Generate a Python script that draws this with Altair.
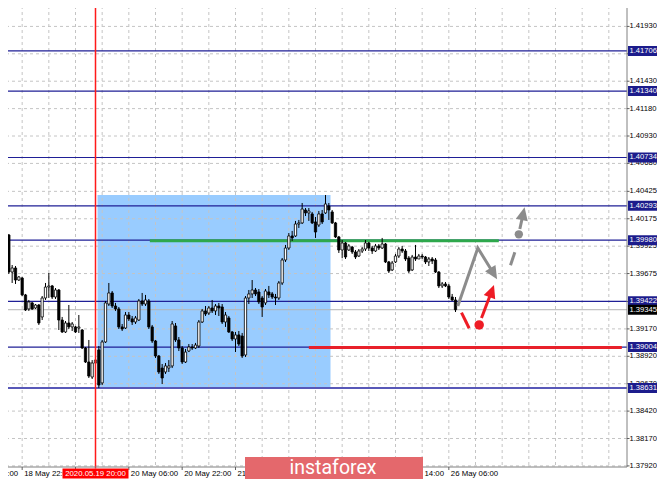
import altair as alt
import pandas as pd

# ---------------- data ----------------
bars = list(range(-6, 131))  # hourly bar index (0 = 18 May 22:00, weekend removed)

opens = [1.40182, 1.40283, 1.40027, 1.39689, 1.39726, 1.39616,
         1.39634, 1.39480, 1.39352, 1.39407, 1.39361, 1.39388, 1.39279, 1.39452, 1.39552, 1.39562,
         1.39461, 1.39525, 1.39251, 1.39142, 1.39224, 1.39188, 1.39188, 1.39178, 1.39160, 1.38996,
         1.38868, 1.38731, 1.38859, 1.38978, 1.38677, 1.39051, 1.39397, 1.39498, 1.39379, 1.39352,
         1.39188, 1.39178, 1.39297, 1.39261, 1.39233, 1.39251, 1.39425, 1.39397, 1.39425, 1.39188,
         1.39060, 1.38923, 1.38813, 1.38777, 1.38813, 1.38832, 1.39197, 1.39069, 1.38996, 1.38868,
         1.38968, 1.39005, 1.38996, 1.39014, 1.39233, 1.39334, 1.39315, 1.39361, 1.39334, 1.39379,
         1.39370, 1.39233, 1.39270, 1.39142, 1.39078, 1.39115, 1.39105, 1.38932, 1.39452, 1.39489,
         1.39525, 1.39507, 1.39452, 1.39407, 1.39507, 1.39489, 1.39461, 1.39452, 1.39589, 1.39799,
         1.39908, 1.40018, 1.40018, 1.40127, 1.40137, 1.40255, 1.40228, 1.40219, 1.40146, 1.40118,
         1.40219, 1.40228, 1.40292, 1.40237, 1.40137, 1.40009, 1.39890, 1.39954, 1.39890, 1.39917,
         1.39872, 1.39835, 1.39881, 1.39899, 1.39954, 1.39908, 1.39881, 1.39927, 1.39908, 1.39945,
         1.39781, 1.39708, 1.39781, 1.39835, 1.39899, 1.39881, 1.39817, 1.39708, 1.39826, 1.39808,
         1.39835, 1.39826, 1.39781, 1.39808, 1.39799, 1.39689, 1.39562, 1.39580, 1.39562, 1.39461,
         1.39434]

highs = [1.40365, 1.40319, 1.40036, 1.39753, 1.39744, 1.39653,
         1.39644, 1.39489, 1.39434, 1.39416, 1.39397, 1.39397, 1.39470, 1.39589, 1.39680, 1.39571,
         1.39543, 1.39534, 1.39279, 1.39242, 1.39388, 1.39233, 1.39197, 1.39297, 1.39169, 1.39005,
         1.39069, 1.38886, 1.38923, 1.39014, 1.39069, 1.39425, 1.39589, 1.39516, 1.39407, 1.39370,
         1.39215, 1.39324, 1.39324, 1.39288, 1.39288, 1.39443, 1.39498, 1.39480, 1.39443, 1.39206,
         1.39069, 1.38932, 1.38850, 1.38859, 1.38886, 1.39242, 1.39224, 1.39096, 1.39014, 1.38987,
         1.39032, 1.39032, 1.39042, 1.39251, 1.39352, 1.39379, 1.39379, 1.39434, 1.39397, 1.39407,
         1.39397, 1.39324, 1.39288, 1.39151, 1.39142, 1.39151, 1.39133, 1.39470, 1.39525, 1.39616,
         1.39543, 1.39534, 1.39470, 1.39534, 1.39562, 1.39507, 1.39489, 1.39607, 1.39817, 1.39936,
         1.40045, 1.40064, 1.40155, 1.40164, 1.40319, 1.40273, 1.40273, 1.40237, 1.40191, 1.40246,
         1.40255, 1.40392, 1.40319, 1.40255, 1.40146, 1.40018, 1.39981, 1.39963, 1.39945, 1.39927,
         1.39890, 1.39899, 1.39917, 1.39981, 1.39963, 1.39927, 1.39945, 1.39945, 1.40000, 1.39954,
         1.39790, 1.39790, 1.39854, 1.39917, 1.39927, 1.39899, 1.39835, 1.39845, 1.39936, 1.39854,
         1.39854, 1.39835, 1.39826, 1.39826, 1.39817, 1.39698, 1.39598, 1.39598, 1.39580, 1.39489,
         1.39461]

lows = [1.40146, 1.40018, 1.39671, 1.39589, 1.39580, 1.39607,
        1.39470, 1.39334, 1.39334, 1.39343, 1.39352, 1.39206, 1.39251, 1.39434, 1.39452, 1.39443,
        1.39443, 1.39160, 1.39133, 1.39133, 1.39169, 1.39151, 1.39133, 1.39133, 1.38987, 1.38859,
        1.38722, 1.38713, 1.38813, 1.38631, 1.38658, 1.39042, 1.39379, 1.39361, 1.39334, 1.39169,
        1.39151, 1.39169, 1.39242, 1.39206, 1.39215, 1.39242, 1.39379, 1.39379, 1.39169, 1.39042,
        1.38905, 1.38759, 1.38667, 1.38759, 1.38777, 1.38813, 1.39051, 1.38968, 1.38850, 1.38859,
        1.38959, 1.38978, 1.38987, 1.38996, 1.39224, 1.39288, 1.39297, 1.39315, 1.39297, 1.39288,
        1.39215, 1.39188, 1.39133, 1.39060, 1.38959, 1.39014, 1.38905, 1.38914, 1.39397, 1.39452,
        1.39470, 1.39397, 1.39279, 1.39388, 1.39452, 1.39443, 1.39388, 1.39434, 1.39571, 1.39781,
        1.39890, 1.39972, 1.40009, 1.40091, 1.40127, 1.40200, 1.40155, 1.40127, 1.40000, 1.40100,
        1.40127, 1.40219, 1.40164, 1.40127, 1.40000, 1.39863, 1.39817, 1.39808, 1.39881, 1.39854,
        1.39808, 1.39826, 1.39863, 1.39881, 1.39881, 1.39854, 1.39872, 1.39890, 1.39899, 1.39771,
        1.39680, 1.39698, 1.39771, 1.39817, 1.39863, 1.39790, 1.39680, 1.39698, 1.39790, 1.39808,
        1.39808, 1.39762, 1.39744, 1.39762, 1.39680, 1.39543, 1.39543, 1.39552, 1.39443, 1.39425,
        1.39324]

closes = [1.40319, 1.40027, 1.39689, 1.39726, 1.39616, 1.39644,
          1.39480, 1.39343, 1.39416, 1.39352, 1.39388, 1.39224, 1.39452, 1.39552, 1.39562, 1.39461,
          1.39525, 1.39251, 1.39142, 1.39224, 1.39188, 1.39215, 1.39142, 1.39188, 1.38996, 1.38868,
          1.38740, 1.38859, 1.38886, 1.38658, 1.39051, 1.39407, 1.39498, 1.39379, 1.39352, 1.39188,
          1.39169, 1.39297, 1.39261, 1.39233, 1.39270, 1.39425, 1.39397, 1.39434, 1.39188, 1.39060,
          1.38923, 1.38777, 1.38722, 1.38832, 1.38832, 1.39215, 1.39069, 1.38996, 1.38868, 1.38959,
          1.39005, 1.38996, 1.39023, 1.39233, 1.39334, 1.39306, 1.39361, 1.39334, 1.39379, 1.39361,
          1.39233, 1.39297, 1.39142, 1.39078, 1.39115, 1.39032, 1.38923, 1.39452, 1.39489, 1.39525,
          1.39489, 1.39416, 1.39370, 1.39516, 1.39480, 1.39461, 1.39452, 1.39589, 1.39799, 1.39908,
          1.40018, 1.40000, 1.40127, 1.40137, 1.40264, 1.40228, 1.40246, 1.40137, 1.40054, 1.40219,
          1.40146, 1.40310, 1.40255, 1.40137, 1.40009, 1.39890, 1.39954, 1.39826, 1.39927, 1.39872,
          1.39826, 1.39881, 1.39899, 1.39954, 1.39908, 1.39881, 1.39927, 1.39908, 1.39945, 1.39781,
          1.39698, 1.39771, 1.39835, 1.39899, 1.39881, 1.39808, 1.39698, 1.39826, 1.39808, 1.39835,
          1.39826, 1.39781, 1.39808, 1.39790, 1.39689, 1.39562, 1.39580, 1.39562, 1.39461, 1.39434,
          1.39345]

level_labels = ["1.41706", "1.41340", "1.40734", "1.40293", "1.39980", "1.39422", "1.39004"]
bottom_level_label = "1.38631"
bid_label = "1.39345"
grid_prices = [1.41930, 1.41680, 1.41430, 1.41180, 1.40930, 1.40680, 1.40425, 1.40175, 1.39925,
               1.39675, 1.39420, 1.39170, 1.38920, 1.38670, 1.38420, 1.38170, 1.37920]
tick_labels = ["1.41930", "1.41680", "1.41430", "1.41180", "1.40930", "1.40680", "1.40425",
               "1.40175", "1.39925", "1.39675", "1.39170", "1.38920", "1.38670",
               "1.38420", "1.38170", "1.37920"]
date_tick_bars = [-16, 0, 16, 32, 48, 64, 80, 96, 112, 128]
date_label_bars = [-16, 0, 32, 48, 64, 128]
date_labels = ["18 May 06:00", "18 May 22:00", "20 May 06:00", "20 May 22:00", "21", "26 May 06:00"]
tail_bar = 112
tail_label = "14:00"
grid_bars = list(range(-8, 184, 8))
marker_bar = 22
marker_label = "2020.05.19 20:00"

box_bars = [22.6, 92.5]
box_prices = [1.38631, 1.40392]
green_bars = [38.3, 143.0]
green_price = 1.39975
red_bars = [86.0, 179.9]
red_price = 1.39000

gray_path_bars = [130.7, 136.7, 141.2]
gray_path_prices = [1.39379, 1.39908, 1.39687]
gray_dash_bars = [146.5, 147.8, 149.3, 150.2]
gray_dash_prices = [1.39750, 1.39869, 1.40082, 1.40207]
gray_dash_seg = [1, 1, 2, 2]
gray_dot = [149.0, 1.40033]
red_path_bars = [131.8, 134.1, 137.8, 140.7]
red_path_prices = [1.39318, 1.39176, 1.39270, 1.39502]
red_path_seg = [1, 1, 2, 2]
red_dot = [137.1, 1.39206]
head_bars = [141.2, 150.2, 140.7]
head_prices = [1.39687, 1.40207, 1.39502]
head_angles = [148.5, 12.4, 20.3]
head_colors = ["#8c8c8c", "#8c8c8c", "#ee1c25"]

watermark = "instaforex"

# ---------------- frames ----------------
candles = pd.DataFrame({"bar": bars, "open": opens, "high": highs, "low": lows, "close": closes})
grid_df = pd.DataFrame({"p": grid_prices})
ticks_df = pd.DataFrame({"label": tick_labels, "p": [float(s) for s in tick_labels]})
levels_df = pd.DataFrame({"label": level_labels, "p": [float(s) for s in level_labels]})
bottom_df = pd.DataFrame({"label": [bottom_level_label], "p": [float(bottom_level_label)]})
bid_df = pd.DataFrame({"label": [bid_label], "p": [float(bid_label)]})
dticks_df = pd.DataFrame({"bar": date_tick_bars})
dates_df = pd.DataFrame({"bar": date_label_bars, "label": date_labels})
tail_df = pd.DataFrame({"bar": [tail_bar], "label": [tail_label]})
vgrid_df = pd.DataFrame({"bar": grid_bars})
marker_df = pd.DataFrame({"bar": [marker_bar], "label": [marker_label]})
box_df = pd.DataFrame({"b0": [box_bars[0]], "b1": [box_bars[1]], "p0": [box_prices[0]], "p1": [box_prices[1]]})
green_df = pd.DataFrame({"b0": [green_bars[0]], "b1": [green_bars[1]], "p": [green_price]})
redl_df = pd.DataFrame({"b0": [red_bars[0]], "b1": [red_bars[1]], "p": [red_price]})
gpath_df = pd.DataFrame({"bar": gray_path_bars, "p": gray_path_prices, "i": [0, 1, 2]})
gdash_df = pd.DataFrame({"bar": gray_dash_bars, "p": gray_dash_prices, "seg": gray_dash_seg})
rpath_df = pd.DataFrame({"bar": red_path_bars, "p": red_path_prices, "seg": red_path_seg})
gdot_df = pd.DataFrame({"bar": [gray_dot[0]], "p": [gray_dot[1]]})
rdot_df = pd.DataFrame({"bar": [red_dot[0]], "p": [red_dot[1]]})
heads_df = pd.DataFrame({"bar": head_bars, "p": head_prices, "ang": head_angles, "col": head_colors})
wm_df = pd.DataFrame({"t": [watermark]})
one = pd.DataFrame({"k": [0]})

# ---------------- scales ----------------
PW, PH = 627, 467
X_DOMAIN = [-6.651, 181.45]
Y_DOMAIN = [1.37910, 1.42171]


def X(f):
    return alt.X(f, type="quantitative",
                 scale=alt.Scale(domain=X_DOMAIN, range=[0, PW], nice=False, zero=False, padding=0),
                 axis=None)


def Y(f):
    return alt.Y(f, type="quantitative",
                 scale=alt.Scale(domain=Y_DOMAIN, range=[PH, 0], nice=False, zero=False, padding=0),
                 axis=None)


NAVY = "#1f1f96"
FONT = "Liberation Sans"
FS = 7.6
FSD = 7.8
DATE_Y = 473.5

layers = []
# blue analysis box
layers.append(alt.Chart(box_df).mark_rect(color="#99ccff").encode(
    x=X("b0"), x2=alt.X2("b1"), y=Y("p0"), y2=alt.Y2("p1")))
# grid
layers.append(alt.Chart(grid_df).mark_rule(color="#c4c4c4", strokeDash=[3, 3], strokeWidth=1).encode(
    x=alt.value(0), x2=alt.value(PW), y=Y("p")))
layers.append(alt.Chart(vgrid_df).mark_rule(color="#c4c4c4", strokeDash=[3, 3], strokeWidth=1).encode(
    x=X("bar"), y=alt.value(0), y2=alt.value(PH)))
# level lines
layers.append(alt.Chart(levels_df).mark_rule(color=NAVY, strokeWidth=1.2).encode(
    x=alt.value(0), x2=alt.value(PW), y=Y("p")))
layers.append(alt.Chart(bottom_df).mark_rule(color="#5858b8", strokeWidth=2).encode(
    x=alt.value(0), x2=alt.value(PW), y=Y("p")))
layers.append(alt.Chart(bid_df).mark_rule(color="#b4b4b4", strokeWidth=1).encode(
    x=alt.value(0), x2=alt.value(PW), y=Y("p")))
# green & red horizontal segments
layers.append(alt.Chart(green_df).mark_rule(color="#2ea84c", strokeWidth=3).encode(
    x=X("b0"), x2=alt.X2("b1"), y=Y("p")))
layers.append(alt.Chart(redl_df).mark_rule(color="#e8202a", strokeWidth=3).encode(
    x=X("b0"), x2=alt.X2("b1"), y=Y("p")))
# candles
layers.append(alt.Chart(candles).mark_rule(color="#000000", strokeWidth=1).encode(
    x=X("bar"), y=Y("low"), y2=alt.Y2("high")))
layers.append(alt.Chart(candles).mark_bar(width=2.3, stroke="#000000", strokeWidth=0.8).encode(
    x=X("bar"), y=Y("open"), y2=alt.Y2("close"),
    fill=alt.condition("datum.close >= datum.open", alt.value("#ffffff"), alt.value("#000000"))))
# red vertical marker (drawn over the candles)
layers.append(alt.Chart(marker_df).mark_rule(color="#ff1a1a", strokeWidth=1.5).encode(
    x=X("bar"), y=alt.value(0), y2=alt.value(DATE_Y - 5)))
# forecast arrows
layers.append(alt.Chart(gpath_df).mark_line(color="#8c8c8c", strokeWidth=3).encode(
    x=X("bar"), y=Y("p"), order="i:Q"))
layers.append(alt.Chart(gdash_df).mark_line(color="#8c8c8c", strokeWidth=3).encode(
    x=X("bar"), y=Y("p"), detail="seg:N"))
layers.append(alt.Chart(rpath_df).mark_line(color="#ee1c25", strokeWidth=3).encode(
    x=X("bar"), y=Y("p"), detail="seg:N"))
layers.append(alt.Chart(gdot_df).mark_circle(color="#8c8c8c", size=70, opacity=1).encode(
    x=X("bar"), y=Y("p")))
layers.append(alt.Chart(rdot_df).mark_circle(color="#ee1c25", size=90, opacity=1).encode(
    x=X("bar"), y=Y("p")))
layers.append(alt.Chart(heads_df).mark_point(shape="M0,-1L0.75,0.6L-0.75,0.6Z", filled=True,
                                              size=264, opacity=1).encode(
    x=X("bar"), y=Y("p"), angle=alt.Angle("ang:Q", scale=None), color=alt.Color("col:N", scale=None)))
# axes
layers.append(alt.Chart(one).mark_rule(color="#808080", strokeWidth=1).encode(
    x=alt.value(PW), y=alt.value(0), y2=alt.value(PH)))
layers.append(alt.Chart(one).mark_rule(color="#808080", strokeWidth=1).encode(
    x=alt.value(0), x2=alt.value(PW), y=alt.value(PH)))
layers.append(alt.Chart(grid_df).mark_rule(color="#606060", strokeWidth=1).encode(
    x=alt.value(PW), x2=alt.value(PW + 2.5), y=Y("p")))
layers.append(alt.Chart(dticks_df).mark_rule(color="#606060", strokeWidth=1).encode(
    x=X("bar"), y=alt.value(PH), y2=alt.value(PH + 3)))
layers.append(alt.Chart(ticks_df).mark_text(align="left", baseline="middle", font=FONT, fontSize=FS,
                                            color="#000000").encode(
    x=alt.value(629.5), y=Y("p"), text="label:N"))
layers.append(alt.Chart(dates_df).mark_text(align="left", baseline="middle", font=FONT, fontSize=FSD,
                                            dx=2, color="#000000").encode(
    x=X("bar"), y=alt.value(DATE_Y), text="label:N"))
layers.append(alt.Chart(tail_df).mark_text(align="left", baseline="middle", font=FONT, fontSize=FSD,
                                           dx=29, color="#000000").encode(
    x=X("bar"), y=alt.value(DATE_Y), text="label:N"))
# price label boxes
layers.append(alt.Chart(pd.concat([levels_df, bottom_df])).mark_rect(
    color="#1c1c8c", yOffset=-5, y2Offset=5).encode(
    x=alt.value(628), x2=alt.value(665), y=Y("p"), y2=alt.Y2("p")))
layers.append(alt.Chart(bid_df).mark_rect(color="#000000", yOffset=-5, y2Offset=5).encode(
    x=alt.value(628), x2=alt.value(665), y=Y("p"), y2=alt.Y2("p")))
layers.append(alt.Chart(pd.concat([levels_df, bottom_df, bid_df])).mark_text(
    align="left", baseline="middle", font=FONT, fontSize=FS, color="#ffffff").encode(
    x=alt.value(629.5), y=Y("p"), text="label:N"))
# red date box
layers.append(alt.Chart(marker_df).mark_rect(color="#ff0000", xOffset=-33, x2Offset=33).encode(
    x=X("bar"), x2=alt.X2("bar"), y=alt.value(DATE_Y - 5), y2=alt.value(DATE_Y + 5)))
layers.append(alt.Chart(marker_df).mark_text(align="center", baseline="middle", font=FONT, fontSize=FSD,
                                             color="#ffffff").encode(
    x=X("bar"), y=alt.value(DATE_Y), text="label:N"))
# watermark
layers.append(alt.Chart(wm_df).mark_rect(color="#e4686c").encode(
    x=alt.value(245), x2=alt.value(423), y=alt.value(457), y2=alt.value(487)))
layers.append(alt.Chart(wm_df).mark_text(align="center", baseline="middle", font="Roboto",
                                         fontSize=19.5, color="#ffffff").encode(
    x=alt.value(333), y=alt.value(468), text="t:N"))

chart = alt.layer(*layers).properties(
    width=665, height=487,
    autosize=alt.AutoSizeParams(type="none"),
    padding={"left": -8, "top": -8, "right": -8, "bottom": -8},
    background="#ffffff",
).configure_view(strokeWidth=0)

chart.save("out.html", embed_options={"renderer": "svg", "actions": False})
